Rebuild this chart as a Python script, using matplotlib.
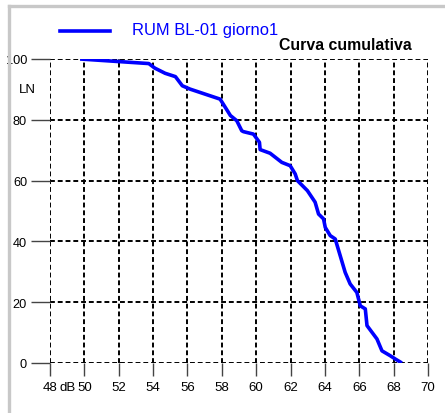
import matplotlib.pyplot as plt
from matplotlib.lines import Line2D

plt.rcParams['font.family'] = ['Liberation Sans', 'DejaVu Sans']

# cumulative level curve: sound level (dB) vs percentage exceeded (LN)
level_db = [49.75, 53.75, 54.1, 54.7, 55.3, 55.7, 56.15, 57.9, 58.08, 58.5,
            58.87, 59.16, 59.26, 59.84, 60.19, 60.23, 60.81, 61.49, 61.98, 62.27,
            62.4, 62.98, 63.43, 63.63, 63.92, 64.02, 64.31, 64.6, 64.89, 65.18,
            65.47, 65.86, 66.06, 66.35, 66.45, 67.03, 67.32, 67.8, 68.1, 68.48]
ln_pct = [100.0, 98.5, 97.0, 95.3, 94.2, 91.2, 90.1, 86.8, 85.2, 81.4,
          79.7, 76.4, 76.1, 75.3, 72.6, 70.2, 69.0, 66.0, 64.9, 62.2,
          60.0, 56.7, 52.9, 49.0, 47.4, 44.6, 41.9, 40.8, 35.3, 29.8,
          26.0, 23.2, 18.8, 17.8, 12.3, 7.9, 4.0, 2.4, 1.3, 0.0]

x_ticks = list(range(48, 71, 2))
x_labels = [str(v) for v in x_ticks]
y_ticks = [0, 20, 40, 60, 80, 100]

series_name = 'RUM BL-01 giorno1'
title = 'Curva cumulativa'

fig = plt.figure(figsize=(4.45, 4.14), dpi=100)
ax = fig.add_axes([50 / 445, 1 - 364 / 414, 378 / 445, 304 / 414])

# dashed grid including the border lines
for xv in x_ticks:
    ax.axvline(xv, color='black', linestyle=(0, (2.5, 1.5)), linewidth=1.4, zorder=1)
for yv in y_ticks:
    ax.axhline(yv, color='black', linestyle=(0, (2.5, 1.5)), linewidth=1.4, zorder=1)

ax.plot(level_db, ln_pct, color='#0000ff', linewidth=2.6, zorder=3,
        solid_joinstyle='round', solid_capstyle='butt')

ax.set_xlim(48, 70)
ax.set_ylim(0, 100)
for s in ax.spines.values():
    s.set_visible(False)
ax.set_xticks(x_ticks)
ax.set_xticklabels(x_labels)
ax.set_yticks(y_ticks)
ax.tick_params(axis='x', length=9, width=1.0, color='#444444', pad=4,
               labelsize=9.5)
ax.tick_params(axis='y', length=14, width=1.0, color='#444444', pad=2.5,
               labelsize=9.2)
# unit next to the first x label
ax.annotate('dB', xy=(48, 0), xycoords=('data', 'axes fraction'),
            xytext=(9, -18), textcoords='offset pixels', fontsize=9.5,
            ha='left', va='top')
ax.text(-0.06, 0.9, 'LN', transform=ax.transAxes, fontsize=9.5,
        ha='center', va='center')

# legend entry and title above the plot
fig.add_artist(Line2D([60 / 445, 110 / 445], [1 - 32 / 414, 1 - 32 / 414],
                      color='#0000ff', linewidth=2.6))
fig.text(132 / 445, 1 - 31 / 414, series_name, color='#0000ff', fontsize=11.9,
         ha='left', va='center')
fig.text(412 / 445, 1 - 45 / 414, title, fontsize=11.4, fontweight='bold',
         ha='right', va='center')

# light frame at top and left
fig.add_artist(Line2D([8.5 / 445, 1.0], [1 - 6.5 / 414, 1 - 6.5 / 414],
                      color='#c8c8c8', linewidth=2.4))
fig.add_artist(Line2D([8.5 / 445, 8.5 / 445], [0.0, 1 - 6.5 / 414],
                      color='#c8c8c8', linewidth=2.4))

fig.savefig('out.png', dpi=100)
